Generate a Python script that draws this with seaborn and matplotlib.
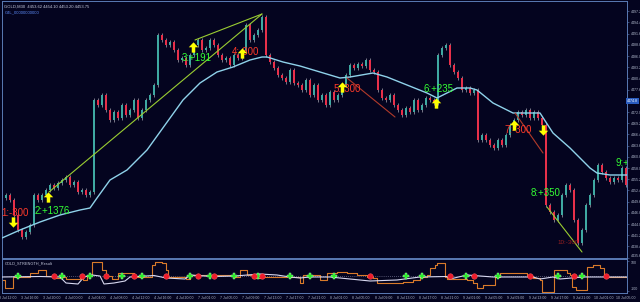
import numpy as np
import matplotlib
matplotlib.use("Agg")
import matplotlib.pyplot as plt
import seaborn as sns
from matplotlib.path import Path

# ---------------- data ----------------
open0 = 4450.5
closes = [
    4451.25, 4450, 4446.25, 4442.5, 4440.75, 4442, 4443.75, 4451.25, 4450, 4451.25, 4452.5,
    4453.75, 4453, 4454.25, 4455, 4455.75, 4453.75, 4454.5, 4452, 4452.5, 4451.25, 4452,
    4475, 4473.75, 4476.25, 4472.5, 4470, 4472, 4470.5, 4473.75, 4471.25, 4472.5, 4475,
    4470.5, 4472.5, 4475, 4476.25, 4478.75,
    4491.25, 4490, 4488.75, 4489.5, 4487.5, 4485, 4485.5, 4483.75, 4486.25, 4488.75, 4490,
    4487.5, 4488, 4490, 4488.75, 4486.25, 4485, 4485.5, 4483.75, 4486.25, 4485.5, 4487.5,
    4493.75, 4490, 4491.25, 4492.5, 4495.75,
    4486.25, 4484.5, 4483, 4481.25, 4480.5, 4479.5, 4482.5, 4479.25, 4478.75, 4477.5, 4480,
    4476.25, 4478.75, 4475, 4476.25, 4473.75, 4477, 4475, 4476.25, 4478.75, 4481.25, 4483.75,
    4483, 4484, 4483.5, 4485, 4482.5, 4482, 4477.5, 4475.5, 4475, 4476.25, 4473.75, 4472.5,
    4471.25, 4473, 4472, 4475, 4472.5, 4473.75, 4475.5, 4475, 4474.25,
    4486.25, 4488, 4488.75, 4483.75, 4482, 4480.5, 4477.5, 4478, 4476.75, 4477.5,
    4465, 4466.25, 4465, 4463.75, 4463, 4465, 4463.75, 4466.25, 4468.75, 4470, 4472, 4471.25,
    4472.5, 4470.5, 4472, 4470.5, 4468.75,
    4448.75, 4447, 4445, 4446.25, 4451.25, 4453.75, 4452.5, 4445, 4439.25, 4442.5, 4448.75,
    4451.25, 4455, 4458.75, 4457, 4455.5, 4454.5, 4455.5, 4455, 4458, 4453.75,
]

ma_idx = [-1, 3.5, 8.5, 13.5, 18.5, 21, 22.75, 26, 30.25, 35.25, 39.75, 44.25, 48.5, 52.75,
          56.75, 61, 64, 65.25, 69.25, 73.5, 78.5, 83.5, 86, 91.75, 95.25, 100.25, 105.25,
          107.75, 110.25, 112.75, 116, 117.75, 121.75, 126.75, 133.5, 136.75, 141, 143.5, 146,
          147.75, 151, 155.25]
ma_price = [4440.5, 4442.5, 4444.5, 4446.25, 4447.5, 4448, 4450.5, 4455, 4457.5, 4462.5,
            4468.75, 4475, 4479.25, 4482, 4483.25, 4485, 4485.75, 4485.75, 4484.5, 4483.5,
            4482, 4480.5, 4480.75, 4481.75, 4480.75, 4478.75, 4476.75, 4475.5, 4476.75, 4478,
            4478, 4477.5, 4474.25, 4471.75, 4471.75, 4466.75, 4463, 4460.5, 4458, 4456.75,
            4456.25, 4456.25]

# trade arrows
arrow_idx = [1.75, 10.5, 46.75, 59, 84, 107.5, 127, 134.25]
arrow_price = [4444.5, 4450.75, 4488.25, 4486.75, 4478.25, 4474.25, 4468.75, 4467.5]
arrow_dir = ["down", "up", "up", "up", "up", "up", "up", "down"]

# trade result labels
label_text = ["1:-300", "2:+1376", "3:+191", "4:-300", "5:-300", "6:+235", "7:-300", "8:+350"]
label_idx = [2.25, 11.5, 47.75, 59.75, 85.25, 108.25, 128, 135]
label_price = [4446.75, 4447.25, 4485.5, 4487, 4477.75, 4477.75, 4467.5, 4451.75]
label_win = [False, True, True, False, False, True, False, True]

# trade lines (start idx, start price, end idx, end price)
tl_x0 = [10.75, 47.25, 85.25, 127.25, 135.25]
tl_y0 = [4452, 4490, 4480.5, 4471.75, 4448.25]
tl_x1 = [64, 64, 97.25, 134.25, 144]
tl_y1 = [4496.5, 4496.5, 4470.75, 4461.75, 4437]
tl_win = [True, True, False, False, True]

# lower indicator panel
orange_idx = [-1, -0.25, 1.75, 6, 8, 10, 12, 13.5, 15, 18.5, 19.25, 20.25, 21.5, 24, 25, 26.5,
              28, 32, 36.5, 37.25, 39, 40, 40.5, 45, 46, 57, 58.5, 60.25, 61.75, 64.25, 70.25,
              71, 73.5, 74.25, 78.5, 80.25, 82.75, 85.25, 87.75, 90.25, 91.75, 92.75, 99.25,
              101.75, 103.5, 105.25, 106, 107.25, 107.75, 109.75, 110.25, 115.25, 116.75,
              117.75, 119.25, 122.25, 123.5, 130.25, 131.75, 133.5, 134, 137, 140.25, 141,
              141.5, 142.5, 145.25, 146.75, 148.5, 149.5, 155.5]
orange_val = [-24, -72, -6, 18, 36, 0, -12, -6, -18, -12, -24, 6, 84, 36, 0, -18, 18, -6, 66,
              84, 78, 36, -6, -18, 6, -6, 36, 6, -12, -6, 6, -6, -42, 6, -24, 18, 24, 18, 6, -6,
              -12, -42, -36, -24, -6, 6, 48, 66, 78, -6, -18, -24, -42, -72, -54, -6, 18, 0, -12,
              -24, -96, 36, 18, 6, -66, -84, 54, 66, 48, -6, -6]
white_idx = [-1, 8.5, 13.5, 15, 18, 19.5, 21.5, 23.5, 24.5, 27, 29.75, 31, 37, 40, 44.75, 46,
             51.75, 57.25, 63.5, 67.75, 71, 73.5, 76, 81, 91, 97.75, 103.5, 110.25, 111, 115.25,
             121.75, 131.75, 133.5, 136.75, 138.5, 144.25, 155.25]
white_val = [-6, -3, -6, -42, -48, -6, 6, 0, -48, -42, -30, -6, 3, -12, -18, 6, -3, 0, 12, 6,
             -6, -12, -6, -6, -30, -24, -6, -3, -18, 6, -6, -6, -18, -6, -18, -6, -6]
buy_signal_idx = [3, 14, 21, 29, 34, 46, 51, 57, 63, 71, 76, 82, 100, 104, 115, 123, 138, 144]
sell_signal_idx = [12, 19, 25, 32, 40, 48, 52, 62, 64, 91, 111, 117, 131, 142, 150]

price_ticks = [4435.6, 4438.4, 4441.2, 4444.0, 4446.8, 4449.6, 4452.4, 4455.2, 4458.0, 4460.8,
               4463.6, 4466.4, 4469.2, 4472.0, 4474.8, 4477.6, 4480.4, 4483.2, 4486.0, 4488.8,
               4491.6, 4494.4, 4497.2]
current_price = 4474.8
time_labels = ["3 Jul 12:00", "3 Jul 16:00", "3 Jul 20:00", "4 Jul 00:00", "4 Jul 04:00",
               "4 Jul 08:00", "4 Jul 12:00", "4 Jul 16:00", "4 Jul 20:00", "7 Jul 01:00",
               "7 Jul 05:00", "7 Jul 09:00", "7 Jul 13:00", "7 Jul 17:00", "7 Jul 21:00",
               "8 Jul 01:00", "8 Jul 05:00", "8 Jul 09:00", "8 Jul 13:00", "8 Jul 17:00",
               "8 Jul 21:00", "9 Jul 01:00", "9 Jul 05:00", "9 Jul 09:00", "9 Jul 13:00",
               "9 Jul 17:00", "9 Jul 21:00", "10 Jul 01:00", "10 Jul 05:00"]

# ---------------- style ----------------
BG = "#04041f"
EDGE = "#5a7ab4"
UPC = "#3fa9a2"
DNC = "#e8304a"
WICK = "#8a8a98"
GREEN = "#33ff33"
RED = "#ff3a2a"
TXT = "#b0b8cc"

sns.set_theme(style="dark", rc={"axes.facecolor": BG, "figure.facecolor": BG,
                                "axes.edgecolor": EDGE, "axes.grid": False})
plt.rcParams['font.family'] = ['Liberation Sans', 'DejaVu Sans']

fig = plt.figure(figsize=(6.4, 3.02), dpi=100)
ax = fig.add_axes([2 / 640, 44 / 302, 625 / 640, 257 / 302])
ax2 = fig.add_axes([2 / 640, 9 / 302, 625 / 640, 34 / 302])
XL = (-1, 155.25)

# ---------------- candles ----------------
c = np.array(closes, dtype=float)
o = np.r_[open0, c[:-1]]
idx = np.arange(len(c))
wick = 0.6
hi = np.maximum(o, c) + wick
lo = np.minimum(o, c) - wick
ax.vlines(idx, lo, hi, color=WICK, lw=0.6, zorder=2)
body = c - o
body = np.where(np.abs(body) < 0.35, 0.35, body)
cols = np.where(c >= o, UPC, DNC)
ax.bar(idx, body, bottom=o, width=0.55, color=cols, linewidth=0, zorder=3)

# moving average
sns.lineplot(x=ma_idx, y=ma_price, ax=ax, color="#8fd2ea", lw=1.0, zorder=4)

# trade lines
for x0, y0, x1, y1, w in zip(tl_x0, tl_y0, tl_x1, tl_y1, tl_win):
    ax.plot([x0, x1], [y0, y1], color="#9acd32" if w else "#b23a2a", lw=0.8, zorder=5)

# trade labels
for t, xi, yi, w in zip(label_text, label_idx, label_price, label_win):
    ax.text(xi, yi, t, color=GREEN if w else RED, fontsize=7, ha="center", va="center",
            zorder=6)
ax.text(152.5, 4459.25, "9:+", color=GREEN, fontsize=7, ha="left", va="center", zorder=6,
        clip_on=True)
ax.text(140.5, 4439.25, "10:-300", color="#9a2020", fontsize=4.5, ha="center", va="center",
        zorder=6)

# arrows
up_verts = [(-0.17, -0.5), (0.17, -0.5), (0.17, 0.02), (0.46, 0.02), (0, 0.5),
            (-0.46, 0.02), (-0.17, 0.02), (-0.17, -0.5)]
dn_verts = [(x, -y) for x, y in up_verts]
for xi, yi, d in zip(arrow_idx, arrow_price, arrow_dir):
    ax.scatter([xi], [yi], marker=Path(up_verts if d == "up" else dn_verts), s=55,
               color="#ffff00", linewidths=0, zorder=7)

ax.set_xlim(*XL)
ax.set_ylim(4435.5, 4499.75)
ax.set_xticks([])
ax.yaxis.tick_right()
ax.set_yticks(price_ticks)
ax.set_yticklabels(["" if abs(p - current_price) < 0.01 else f"{p:.1f}" for p in price_ticks])
ax.tick_params(axis="y", labelsize=2.6, colors=TXT, length=1.5, width=0.4, pad=1,
               color=EDGE)
ax.get_yticklabels()[0].set_va("bottom")
ax.set_xlabel("")
ax.set_ylabel("")
for s in ax.spines.values():
    s.set_color(EDGE)
    s.set_linewidth(0.7)
ax.text(1.0, current_price, f"{current_price:.1f}", transform=ax.get_yaxis_transform(),
        fontsize=2.6, color="white", ha="left", va="center",
        bbox=dict(boxstyle="square,pad=0.25", fc="#2a5cc0", ec="none"), clip_on=False)

ax.text(0.004, 0.985, "GOLD,M30  4453.62 4454.10 4453.20 4453.75", transform=ax.transAxes,
        fontsize=3, color="#c8cce0", ha="left", va="top")
ax.text(0.004, 0.965, "GJL_00000000000", transform=ax.transAxes,
        fontsize=3, color="#5f8fff", ha="left", va="top")

# ---------------- lower panel ----------------
ax2.axhline(0, color="#9a9ab8", lw=0.5, ls=(0, (1, 2)), zorder=1)
sns.lineplot(x=orange_idx, y=orange_val, ax=ax2, color="#d97a2a", lw=0.8,
             drawstyle="steps-post", zorder=2)
sns.lineplot(x=white_idx, y=white_val, ax=ax2, color="#d8d8f0", lw=0.8, zorder=3)
sns.scatterplot(x=buy_signal_idx, y=[0] * len(buy_signal_idx), ax=ax2, marker="P", s=22,
                color="#22ee22", edgecolor="#b0ffb0", linewidth=0.3, zorder=5)
sns.scatterplot(x=sell_signal_idx, y=[0] * len(sell_signal_idx), ax=ax2, marker="o", s=16,
                color="#ee1c2c", edgecolor="#ff6060", linewidth=0.3, zorder=5)
ax2.set_xlim(*XL)
ax2.set_ylim(-102, 102)
ax2.yaxis.tick_right()
ax2.set_yticks([90, -90])
ax2.set_yticklabels(["100", "-100"])
ax2.tick_params(axis="y", labelsize=2.6, colors=TXT, length=1.5, width=0.4, pad=1, color=EDGE)
yl = ax2.get_yticklabels()
yl[0].set_va("top")
yl[1].set_va("bottom")
ax2.set_xticks(np.linspace(0.5, 155.0, len(time_labels)))
ax2.set_xticklabels(time_labels)
ax2.tick_params(axis="x", labelsize=2.5, colors=TXT, length=1.5, width=0.4, pad=1, color=EDGE)
ax2.set_xlabel("")
ax2.set_ylabel("")
for s in ax2.spines.values():
    s.set_color(EDGE)
    s.set_linewidth(0.7)
ax2.text(0.004, 0.93, "GOLD_STRENGTH_Result", transform=ax2.transAxes, fontsize=2.8,
         color="#c8cce0", ha="left", va="top")

fig.savefig("out.png", dpi=100, facecolor=BG)
